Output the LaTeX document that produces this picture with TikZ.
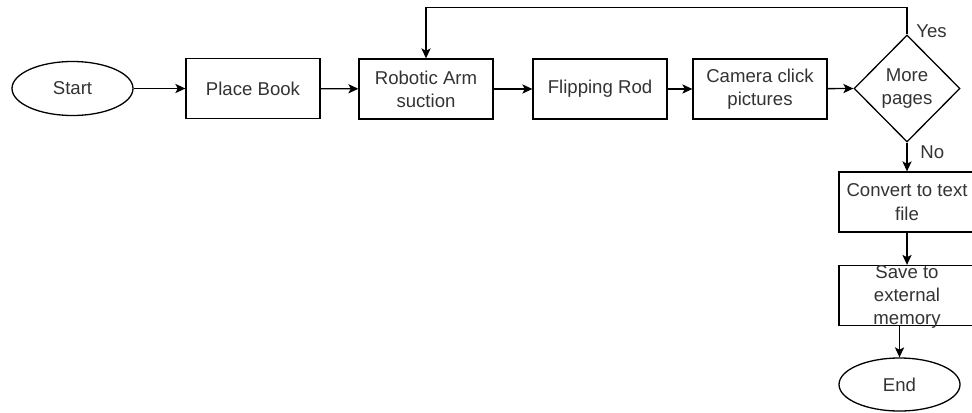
\documentclass[tikz,border=0pt]{standalone}
\usepackage{fontspec}
\setmainfont{Liberation Sans}
\usetikzlibrary{shapes.geometric,arrows.meta}
\definecolor{txtgray}{HTML}{333333}
\newcommand{\flowfont}{\fontsize{9.3}{11.6}\selectfont}
\tikzset{
  flow/.style={line width=0.65pt,-{Stealth[length=5pt,width=4.6pt,inset=1.2pt]}},
  stepbox/.style={draw,line width=0.65pt,rectangle,minimum width=67pt,minimum height=30pt,inner sep=0pt,align=center,text=txtgray,font=\flowfont},
  terminal/.style={draw,line width=0.65pt,ellipse,minimum width=60.5pt,minimum height=27pt,inner sep=0pt,text=txtgray,font=\flowfont},
  decision/.style={draw,line width=0.65pt,diamond,aspect=1,minimum width=53pt,minimum height=53.5pt,inner sep=0pt,align=center,text=txtgray,font=\flowfont},
  plain/.style={inner sep=0pt,align=center,text=txtgray,font=\flowfont},
  branch/.style={inner sep=0pt,anchor=west,text=txtgray,font=\flowfont}
}
\begin{document}
\begin{tikzpicture}[x=0.5pt,y=-0.5pt]
\useasboundingbox (0,0) rectangle (972,412);
\clip (0,0) rectangle (972,412);
% main row
\node[terminal] (start) at (72.5,88.5) {Start};
\node[stepbox] (place) at (253,88.5) {Place Book};
\node[stepbox] (robot) at (426,89) {Robotic Arm\\suction};
\node[stepbox] (flip) at (600,89) {Flipping Rod};
\node[stepbox] (cam) at (760,89) {Camera click\\pictures};
\node[decision] (dia) at (907,88.5) {More\\pages};
% right column
\node[stepbox,minimum width=68pt] (conv) at (907,202) {Convert to text\\file};
\node[stepbox,minimum width=68pt] (save) at (907,295.5) {};
\node[plain] (savetxt) at (907,297) {Save to\\external\\memory};
\node[terminal,minimum height=26.5pt] (end) at (899.5,384.5) {End};
% branch labels
\node[branch] (yes) at (916,31) {Yes};
\node[branch] (no) at (920,152) {No};
% connectors
\draw[flow] (start) -- (place);
\draw[flow] (place) -- (robot);
\draw[flow] (robot) -- (flip);
\draw[flow] (flip) -- (cam);
\draw[flow] (cam) -- (dia.west);
\draw[flow] (dia.north) -- ++(0,-27) -| (robot.north);
\draw[flow] (dia.south) -- (conv.north);
\draw[flow] (conv.south) -- (save.north);
\draw[flow] (save.south -| end.north) -- (end.north);
\end{tikzpicture}
\end{document}
